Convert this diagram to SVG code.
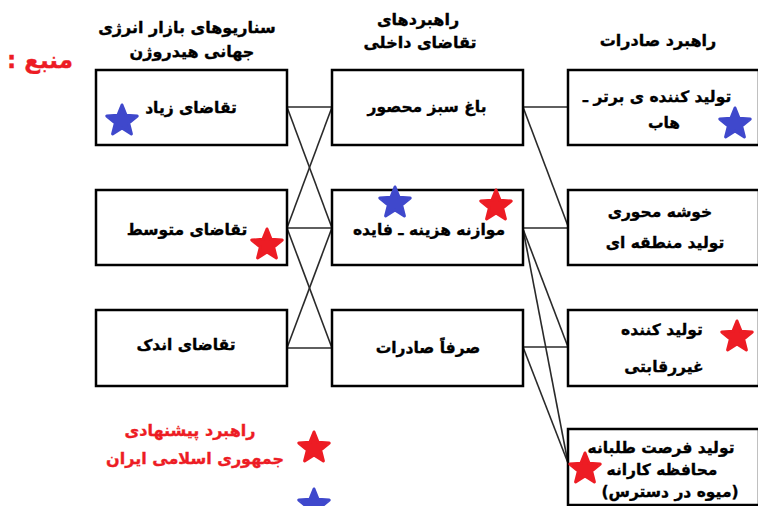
<svg xmlns="http://www.w3.org/2000/svg" width="758" height="506" viewBox="0 0 758 506">
<style>
text{font-family:"DejaVu Sans",sans-serif;font-weight:bold;direction:rtl;text-anchor:middle;dominant-baseline:central;fill:#000;stroke:#000;stroke-width:0.35}
.h{font-size:16px}
.n{font-size:15.5px}
.red{fill:#ed1c24;stroke:#ed1c24}
.box{fill:#fff;stroke:#000;stroke-width:2.5}
.c line{stroke:#2a2a2a;stroke-width:1.6}
.sr{fill:#ed1c24;stroke:#ed1c24;stroke-width:3;stroke-linejoin:round}
.sb{fill:#3f48cc;stroke:#3f48cc;stroke-width:3;stroke-linejoin:round}
</style>
<defs>
<path id="star" d="M0,-16 L4.11,-5.66 L15.22,-4.94 L6.66,2.16 L9.4,12.94 L0,7 L-9.4,12.94 L-6.66,2.16 L-15.22,-4.94 L-4.11,-5.66 Z"/>
</defs>
<rect width="758" height="506" fill="#fff"/>

<g id="headers">
<text class="h" x="187" y="27">سناریوهای بازار انرژی</text>
<text class="h" x="192" y="51">جهانی هیدروژن</text>
<text class="h" x="418" y="19">راهبردهای</text>
<text class="h" x="420" y="42">تقاضای داخلی</text>
<text class="h" x="658" y="40">راهبرد صادرات</text>
<text x="40" y="60" class="red" style="font-size:23px">منبع :</text>
</g>

<g id="connectors" class="c">
<line x1="287" y1="107" x2="332" y2="107"/>
<line x1="287" y1="228" x2="332" y2="228"/>
<line x1="287" y1="348" x2="332" y2="348"/>
<line x1="287" y1="107" x2="332" y2="228"/>
<line x1="332" y1="107" x2="287" y2="228"/>
<line x1="287" y1="228" x2="332" y2="348"/>
<line x1="332" y1="228" x2="287" y2="348"/>
<line x1="523" y1="107" x2="568" y2="107"/>
<line x1="523" y1="107" x2="568" y2="226"/>
<line x1="523" y1="228" x2="568" y2="228"/>
<line x1="523" y1="229" x2="568" y2="347"/>
<line x1="523" y1="229" x2="568" y2="463"/>
<line x1="523" y1="347" x2="568" y2="347"/>
<line x1="523" y1="347" x2="568" y2="463"/>
</g>

<g id="n-high">
<rect class="box" x="96" y="70" width="191" height="75"/>
<text class="n" x="191" y="108">تقاضای زیاد</text>
<use href="#star" class="sb" x="122" y="121"/>
</g>
<g id="n-medium">
<rect class="box" x="96" y="190" width="191" height="75"/>
<text class="n" x="187" y="230">تقاضای متوسط</text>
<use href="#star" class="sr" x="267" y="245"/>
</g>
<g id="n-low">
<rect class="box" x="96" y="310" width="191" height="76"/>
<text class="n" x="186" y="345">تقاضای اندک</text>
</g>

<g id="n-greenhouse">
<rect class="box" x="332" y="70" width="191" height="75"/>
<text class="n" x="427" y="107">باغ سبز محصور</text>
</g>
<g id="n-costbenefit">
<rect class="box" x="332" y="190" width="191" height="75"/>
<text class="n" x="429" y="230">موازنه هزینه ـ فایده</text>
<use href="#star" class="sb" x="395" y="203"/>
<use href="#star" class="sr" x="496" y="206"/>
</g>
<g id="n-exportonly">
<rect class="box" x="332" y="310" width="191" height="76"/>
<text class="n" x="428" y="348">صرفاً صادرات</text>
</g>

<g id="n-hub">
<rect class="box" x="568" y="70" width="191" height="75"/>
<text class="n" x="657" y="97">تولید کننده ی برتر ـ</text>
<text class="n" x="664" y="123">هاب</text>
<use href="#star" class="sb" x="735" y="124"/>
</g>
<g id="n-cluster">
<rect class="box" x="568" y="190" width="191" height="75"/>
<text class="n" x="660" y="212">خوشه محوری</text>
<text class="n" x="665" y="243">تولید منطقه ای</text>
</g>
<g id="n-noncompetitive">
<rect class="box" x="568" y="310" width="191" height="76"/>
<text class="n" x="662" y="330">تولید کننده</text>
<text class="n" x="664" y="367">غیررقابتی</text>
<use href="#star" class="sr" x="737" y="337"/>
</g>
<g id="n-opportunistic">
<rect class="box" x="568" y="429" width="191" height="76"/>
<text class="n" x="661" y="448">تولید فرصت طلبانه</text>
<text class="n" x="662" y="470">محافظه کارانه</text>
<text class="n" x="670" y="492">(میوه در دسترس)</text>
<use href="#star" class="sr" x="585" y="469"/>
</g>

<g id="legend">
<text class="h red" x="190" y="430">راهبرد پیشنهادی</text>
<text class="h red" x="195" y="458">جمهوری اسلامی ایران</text>
<use href="#star" class="sr" x="314" y="448"/>
<use href="#star" class="sb" x="314" y="505"/>
</g>
</svg>
